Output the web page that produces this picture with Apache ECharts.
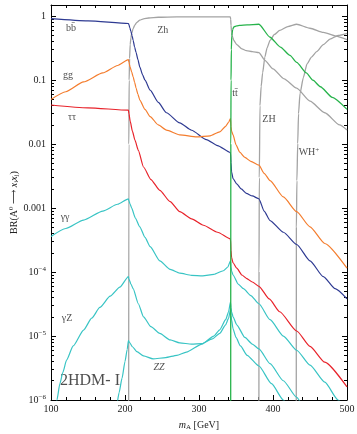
<!DOCTYPE html>
<html><head><meta charset="utf-8">
<script src="https://cdn.jsdelivr.net/npm/echarts@6/dist/echarts.min.js"></script>
<style>html,body{margin:0;padding:0;background:#fff}#c{width:357px;height:434px}</style>
</head><body><div id="c"></div>
<script>
const FONT = '"Liberation Serif","DejaVu Serif",serif';

// ---- data (m_A in GeV, branching ratio) ----
const mBB = [100,150,204.6,205.3,206.5,208,209.5,211,213,215,217.5,220,224,227,234,245,256,274,290,310,325,342.5,343.2,344,346,351,357,364,372,381,388,396,414,432,450,468,484,500];
const brBB = [0.92,0.85,0.77,0.74,0.66,0.58,0.50,0.42,0.33,0.27,0.21,0.16,0.12,0.10,0.07,0.045,0.031,0.0215,0.0165,0.0118,0.0095,0.0074,0.0052,0.0037,0.0029,0.0024,0.0020,0.0017,0.00155,0.0014,0.0009,0.00064,0.00042,0.00027,0.00015,0.000085,0.000055,0.000038];

const mGG = [100,120,144,170,190,204.6,205.3,207,209,211,213,215,217.5,220,227,234,245,256,274,297,315,328,336,340,342.5,343.2,344,346,350,355,362,370,381,388,396,414,432,450,470,500];
const brGG = [0.050,0.066,0.094,0.13,0.17,0.21,0.19,0.16,0.135,0.113,0.093,0.075,0.06,0.049,0.035,0.027,0.020,0.0166,0.014,0.013,0.0135,0.0156,0.019,0.022,0.025,0.019,0.016,0.014,0.0098,0.0075,0.0062,0.0054,0.0047,0.0035,0.0027,0.0015,0.00088,0.00051,0.00028,0.000115];

const mTauTau = [100,150,204.6,205.3,207,210,213.5,218,225,235,247,261,274,290,306,325,342.5,343.2,344,346,351,358,364,372,381,395,409,432,450,470,500];
const brTauTau = [0.041,0.037,0.034,0.030,0.023,0.016,0.0115,0.008,0.0044,0.0028,0.0019,0.00126,0.00088,0.00068,0.00054,0.00042,0.00033,0.00022,0.00017,0.00014,0.000115,0.00009,0.00008,0.00007,0.00006,0.000038,0.000024,0.000012,0.0000069,0.0000039,0.0000016];

const mGamGam = [100,120,144,170,190,204.6,205.3,207,209,214,220,227,234,247,261,274,290,305,320,333,339,342.5,343.2,344,346,353,360,370,381,396,414,432,450,470,488,500];
const brGamGam = [3.6e-4,4.8e-4,6.5e-4,9e-4,1.15e-3,1.4e-3,1.3e-3,1.15e-3,1.0e-3,7e-4,5.1e-4,3.5e-4,2.5e-4,1.5e-4,1.1e-4,9.6e-5,8.9e-5,8.7e-5,9.2e-5,1.05e-4,1.2e-4,1.5e-4,1.2e-4,1.05e-4,9e-5,6.5e-5,5.5e-5,4.3e-5,3.2e-5,1.8e-5,1e-5,6e-6,3.5e-6,1.9e-6,1e-6,6.5e-7];

const mGamZ = [105,108,112,116,121,130,144,155,166,180,193,204.6,205.3,208,211,218,225,235,247,261,274,290,304,318,328,336,340,342.5,343.2,344,346,350,356,365,381,398,414,420];
const brGamZ = [6e-7,1e-6,1.8e-6,2.7e-6,4.2e-6,7e-6,1.24e-5,1.9e-5,2.8e-5,4.2e-5,5.8e-5,8.5e-5,7.8e-5,6.5e-5,5.5e-5,3.2e-5,2e-5,1.4e-5,1.1e-5,8.7e-6,7.8e-6,7.5e-6,7.6e-6,9e-6,1.1e-5,1.5e-5,1.9e-5,2.6e-5,2.1e-5,1.8e-5,1.3e-5,9.5e-6,7e-6,5e-6,3.4e-6,1.8e-6,1e-6,8e-7];

const mZZ = [189,192,196,200,203,204.6,206,210,216,225,238,255,270,283,304,320,328,336,340,342.5,343.2,344,346,351,362,372,381,396,414,432,440];
const brZZ = [8e-7,1.3e-6,2.2e-6,4e-6,6.2e-6,8.5e-6,8e-6,6.8e-6,5.7e-6,4.9e-6,4.4e-6,4.6e-6,5e-6,5.6e-6,7.5e-6,1e-5,1.25e-5,1.8e-5,2.4e-5,3.4e-5,2.8e-5,2.4e-5,2e-5,1.5e-5,9.5e-6,7.5e-6,6.3e-6,3.7e-6,2e-6,1.1e-6,8e-7];

const mZh = [204.9,205.2,205.6,206.2,207,208,209,211,213,216,220,225,232,245,270,342.3,342.8,343.3,344,345.5,347,351,358,364,372,381,389,400,415,432,450,470,490,500];
const brZh = [1e-7,0.01,0.1,0.22,0.36,0.46,0.54,0.64,0.72,0.8,0.87,0.91,0.94,0.965,0.98,0.98,0.9,0.72,0.57,0.47,0.42,0.36,0.31,0.29,0.28,0.27,0.205,0.15,0.105,0.075,0.047,0.031,0.020,0.0166];

const mTT = [342.8,343.0,343.3,343.7,344.3,345.5,347,351,355,365,381,396,410,423,432,445,454,464,480,500];
const brTT = [1e-7,0.01,0.1,0.3,0.5,0.62,0.68,0.705,0.72,0.735,0.75,0.47,0.33,0.245,0.19,0.13,0.1,0.079,0.054,0.035];

const mZH = [380.9,381.1,381.5,382.4,384,386,389,392,396,402,409,420,432,450,468,485,500];
const brZH = [1e-7,1e-4,0.003,0.04,0.08,0.13,0.23,0.32,0.42,0.52,0.6,0.69,0.75,0.65,0.56,0.49,0.43];

const mWH = [431.4,431.6,432.3,433.4,434.5,436.5,441,446,452,459,468,477,488,500];
const brWH = [1e-7,5e-4,0.0027,0.0103,0.03,0.062,0.11,0.18,0.23,0.28,0.36,0.44,0.5,0.54];

// curve labels: [text, m_A, BR]
const curveLabels = [
  ['{n|bb\u0304}', 127, 0.65],
  ['{n|gg}', 123, 0.12],
  ['{n|\u03c4\u03c4}', 128.4, 0.026],
  ['{n|Zh}', 251, 0.60],
  ['{n|tt\u0304}', 348.6, 0.063],
  ['{n|ZH}', 394.6, 0.0245],
  ['{n|WH}{sup|+}', 448.6, 0.0075],
  ['{n|\u03b3\u03b3}', 119, 7.2e-4],
  ['{n|\u03b3Z}', 121.6, 1.9e-5],
  ['{it|ZZ}', 246, 3.2e-6],
  ['{big|2HDM- I}', 152.7, 2e-6]
];

const xTicks = [100, 200, 300, 400, 500];
const yMajor = [1e-6, 1e-5, 1e-4, 1e-3, 1e-2, 1e-1, 1];

// ---- chart ----
const yMin = 1e-6, yMax = 1.5;
const minorLog = [];
for (let e = -6; e <= 0; e++) for (let k = 2; k <= 9; k++) { const v = k * Math.pow(10, e); if (v < yMax) minorLog.push(Math.log10(v)); }

function pairs(m, b) { return m.map((x, i) => [x, b[i]]); }
function yFmt(v) {
  const e = Math.round(Math.log10(v));
  if (Math.abs(v / Math.pow(10, e) - 1) > 0.01) return '';
  if (e >= -3) return ['1', '0.1', '0.01', '0.001'][-e];
  return '{b|10}{s|\u2212' + (-e) + '}';
}
const rich = {
  n: { fontFamily: FONT, fontSize: 10, color: '#222', lineHeight: 12 },
  it: { fontFamily: FONT, fontSize: 10, color: '#222', fontStyle: 'italic', lineHeight: 12 },
  sup: { fontFamily: FONT, fontSize: 7, color: '#222', lineHeight: 7, verticalAlign: 'top' },
  sub: { fontFamily: FONT, fontSize: 7, color: '#222', lineHeight: 7, verticalAlign: 'bottom' },
  big: { fontFamily: FONT, fontSize: 16, color: '#222' }
};
const tickStyle = { color: '#000', width: 1 };
const axisLine = { show: true, lineStyle: { color: '#000', width: 1 } };

function line(name, m, b, color, w) {
  return { name, type: 'line', xAxisIndex: 0, yAxisIndex: 0, data: pairs(m, b), showSymbol: false, symbol: 'none',
    smooth: 0.2, smoothMonotone: 'x', clip: true, lineStyle: { color, width: w || 1.2 }, itemStyle: { color }, silent: true, animation: false };
}

const gridBox = { left: 51, right: 10, top: 5, bottom: 34, containLabel: false, outerBoundsMode: 'none' };
const chart = echarts.init(document.getElementById('c'), null, { renderer: 'canvas' });
chart.setOption({
  animation: false,
  backgroundColor: '#fff',
  grid: [ Object.assign({}, gridBox), Object.assign({}, gridBox) ],
  xAxis: [
    { gridIndex: 0, type: 'value', min: 100, max: 500, interval: 100, position: 'bottom',
      axisLine, axisTick: { inside: true, length: 5, lineStyle: tickStyle },
      minorTick: { show: true, splitNumber: 5, length: 3, lineStyle: tickStyle },
      splitLine: { show: false },
      axisLabel: { fontFamily: FONT, fontSize: 10, color: '#222', margin: 4 },
      name: '{it|m}{sub|A}{n| [GeV]}', nameLocation: 'middle', nameGap: 19, nameMoveOverlap: false,
      nameTextStyle: { rich: { it: { fontFamily: FONT, fontSize: 10, fontStyle: 'italic', color: '#222', lineHeight: 12 }, sub: rich.sub, n: rich.n } } },
    { gridIndex: 0, type: 'value', min: 100, max: 500, interval: 100, position: 'top',
      axisLine, axisTick: { inside: true, length: 5, lineStyle: tickStyle },
      minorTick: { show: true, splitNumber: 5, length: 3, lineStyle: tickStyle },
      splitLine: { show: false }, axisLabel: { show: false } },
    { gridIndex: 1, type: 'value', min: 100, max: 500, show: false }
  ],
  yAxis: [
    { gridIndex: 0, type: 'log', logBase: 10, min: yMin, max: yMax, position: 'left',
      axisLine, axisTick: { inside: true, length: 5, lineStyle: tickStyle },
      splitLine: { show: false }, minorTick: { show: false },
      axisLabel: { formatter: yFmt, fontFamily: FONT, fontSize: 10, color: '#222', margin: 5,
        rich: { b: { fontFamily: FONT, fontSize: 10, color: '#222', lineHeight: 12 }, s: rich.sup } },
      name: '{n|BR(}{n|A}{sup|0}{n| \u27f6 }{it|x}{sub|i}{it|x}{sub|j}{n|)}', nameLocation: 'middle', nameGap: 31,
      nameMoveOverlap: false, nameTextStyle: { rich } },
    { gridIndex: 0, type: 'log', logBase: 10, min: yMin, max: yMax, position: 'right',
      axisLine, axisTick: { inside: true, length: 5, lineStyle: tickStyle },
      splitLine: { show: false }, axisLabel: { show: false } },
    { gridIndex: 1, type: 'value', min: -6, max: Math.log10(yMax), position: 'left',
      axisLine: { show: false }, axisLabel: { show: false }, splitLine: { show: false },
      axisTick: { show: true, inside: true, length: 3, lineStyle: tickStyle, customValues: minorLog } },
    { gridIndex: 1, type: 'value', min: -6, max: Math.log10(yMax), position: 'right',
      axisLine: { show: false }, axisLabel: { show: false }, splitLine: { show: false },
      axisTick: { show: true, inside: true, length: 3, lineStyle: tickStyle, customValues: minorLog } }
  ],
  series: [
    line('Zh', mZh, brZh, '#a3a3a3', 1.3),
    line('ZH', mZH, brZH, '#a3a3a3', 1.3),
    line('WH+', mWH, brWH, '#a3a3a3', 1.3),
    line('bb', mBB, brBB, '#2e3a92'),
    line('gg', mGG, brGG, '#f47d2e'),
    line('tautau', mTauTau, brTauTau, '#e8232b'),
    line('gamgam', mGamGam, brGamGam, '#38c4c4'),
    line('gamZ', mGamZ, brGamZ, '#38c4c4'),
    line('ZZ', mZZ, brZZ, '#38c4c4'),
    line('tt', mTT, brTT, '#27b34b', 1.3),
    { type: 'scatter', xAxisIndex: 0, yAxisIndex: 0, symbolSize: 1, itemStyle: { color: 'rgba(0,0,0,0)' }, silent: true,
      data: curveLabels.map(l => ({ value: [l[1], l[2]], name: l[0] })),
      label: { show: true, position: 'inside', formatter: p => p.name, rich } }
  ]
});
</script></body></html>
